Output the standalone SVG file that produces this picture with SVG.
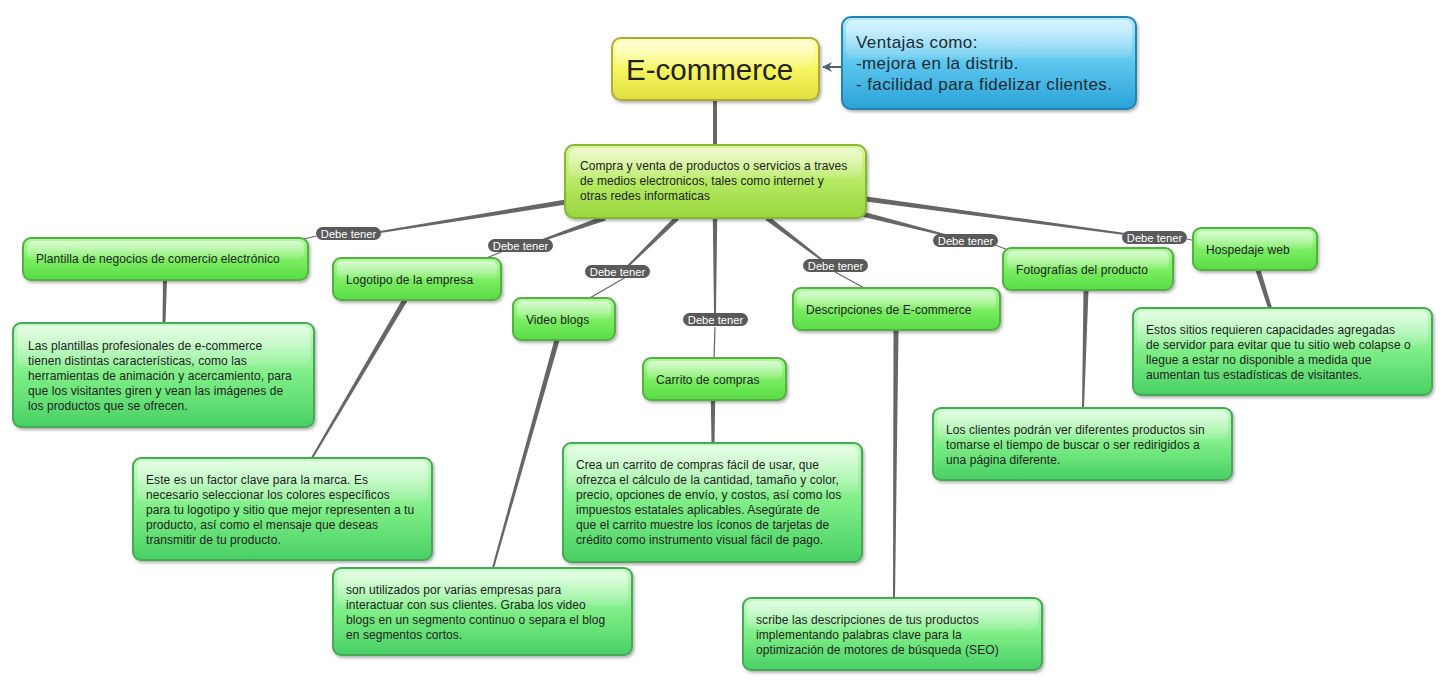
<svg xmlns="http://www.w3.org/2000/svg" width="1442" height="681" viewBox="0 0 1442 681">
<defs>
<linearGradient id="gChild" x1="0" y1="0" x2="0" y2="1"><stop offset="0" stop-color="#b4f9a4"/><stop offset="0.5" stop-color="#7cee62"/><stop offset="1" stop-color="#58dc46"/></linearGradient>
<linearGradient id="gDesc" x1="0" y1="0" x2="0" y2="1"><stop offset="0" stop-color="#c8fcc8"/><stop offset="0.5" stop-color="#7eee86"/><stop offset="1" stop-color="#48d064"/></linearGradient>
<linearGradient id="gCentral" x1="0" y1="0" x2="0" y2="1"><stop offset="0" stop-color="#dcf69a"/><stop offset="0.5" stop-color="#b6ea62"/><stop offset="1" stop-color="#98d63e"/></linearGradient>
<linearGradient id="gRoot" x1="0" y1="0" x2="0" y2="1"><stop offset="0" stop-color="#ffffb0"/><stop offset="0.5" stop-color="#f6f660"/><stop offset="1" stop-color="#dede3c"/></linearGradient>
<linearGradient id="gBlue" x1="0" y1="0" x2="0" y2="1"><stop offset="0" stop-color="#b4eafd"/><stop offset="0.5" stop-color="#5cc6ee"/><stop offset="1" stop-color="#2aa2d6"/></linearGradient>
<linearGradient id="gGloss" x1="0" y1="0" x2="0" y2="1"><stop offset="0" stop-color="#ffffff" stop-opacity="0.55"/><stop offset="1" stop-color="#ffffff" stop-opacity="0.1"/></linearGradient>
<filter id="sh" x="-10%" y="-10%" width="120%" height="130%"><feDropShadow dx="1.5" dy="2" stdDeviation="1.5" flood-color="#000" flood-opacity="0.3"/></filter>
<marker id="arr" viewBox="0 0 10 10" refX="9" refY="5" markerWidth="10" markerHeight="10" markerUnits="userSpaceOnUse" orient="auto"><path d="M0,0 L10,5 L0,10 L3,5 Z" fill="#4a6278"/></marker>
</defs>
<style>
.t{font-family:"Liberation Sans",Arial,sans-serif;font-size:12px;fill:#222;letter-spacing:0.08px}
.child{fill:url(#gChild);stroke:#54b042;stroke-width:2;filter:url(#sh)}
.desc{fill:url(#gDesc);stroke:#4aa858;stroke-width:2;filter:url(#sh)}
.gloss{fill:url(#gGloss)}
.lbl rect{fill:#5a5a5a}
.lbl text{font-family:"Liberation Sans",Arial,sans-serif;font-size:11.2px;fill:#fff;text-anchor:middle}
.thin{stroke:#666;stroke-width:1.2;fill:none}
.tap{fill:#666}
</style>
<rect width="1442" height="681" fill="#fff"/>
<g id="connectors">
<line x1="715" y1="100" x2="715" y2="146" stroke="#666" stroke-width="4"/>
<line x1="842" y1="67" x2="823" y2="67" stroke="#4a6278" stroke-width="2" marker-end="url(#arr)"/>
<polygon class="tap" points="565.6,199.5 379.8,231 380.2,233 566.4,204.5"/>
<polygon class="tap" points="604.2,215.6 539.7,240.1 540.3,241.9 605.8,220.4"/>
<polygon class="tap" points="675.2,216.2 627.3,265.3 628.7,266.7 678.8,219.8"/>
<polygon class="tap" points="712.8,218 717.2,218 716,313 714,313"/>
<polygon class="tap" points="765.5,220 821.4,260.8 822.6,259.2 768.5,216"/>
<polygon class="tap" points="861.4,216.4 944.8,236 945.2,234 862.6,211.6"/>
<polygon class="tap" points="865.7,201.5 1124.9,235 1125.1,233 866.3,196.5"/>
<path class="thin" d="M316,236 L304,239"/>
<path class="thin" d="M506,250 L484,259"/>
<path class="thin" d="M626,277 L588,299"/>
<path class="thin" d="M715,327 L714,359"/>
<path class="thin" d="M835,272 L866,289"/>
<path class="thin" d="M990,243 L1008,250"/>
<path class="thin" d="M1187,239 L1196,241"/>
<polygon class="tap" points="163,280 167,280 165.5,323 162.5,323"/>
<polygon class="tap" points="402.8,298.7 311.1,457.5 312.9,458.5 407.2,301.3"/>
<polygon class="tap" points="554.6,339.3 492,567.7 494,568.3 559.4,340.7"/>
<polygon class="tap" points="710.8,400 715.2,400 714.5,443 711.5,443"/>
<polygon class="tap" points="893.5,330 898.5,330 895,598 893,598"/>
<polygon class="tap" points="1083.5,290 1088.5,290 1084,408 1082,408"/>
<polygon class="tap" points="1255.6,270.8 1268.1,308.6 1271.9,307.4 1260.4,269.2"/>
<g class="lbl"><rect x="316" y="227" width="65" height="13" rx="6.5"/><text x="348.5" y="237.5">Debe tener</text></g>
<g class="lbl"><rect x="488" y="239" width="65" height="13" rx="6.5"/><text x="520.5" y="249.5">Debe tener</text></g>
<g class="lbl"><rect x="585" y="265" width="65" height="13" rx="6.5"/><text x="617.5" y="275.5">Debe tener</text></g>
<g class="lbl"><rect x="683" y="313" width="65" height="13" rx="6.5"/><text x="715.5" y="323.5">Debe tener</text></g>
<g class="lbl"><rect x="803" y="259" width="65" height="13" rx="6.5"/><text x="835.5" y="269.5">Debe tener</text></g>
<g class="lbl"><rect x="933" y="234" width="65" height="13" rx="6.5"/><text x="965.5" y="244.5">Debe tener</text></g>
<g class="lbl"><rect x="1122" y="231" width="65" height="13" rx="6.5"/><text x="1154.5" y="241.5">Debe tener</text></g>
</g>
<g id="root">
<rect x="612" y="38" width="207" height="62" rx="9" fill="url(#gRoot)" stroke="#acac3a" stroke-width="2" filter="url(#sh)"/>
<rect x="616" y="41" width="199" height="26" rx="7" class="gloss"/>
<text x="626" y="80" style="font-family:'Liberation Sans',Arial,sans-serif;font-size:29.5px;fill:#222">E-commerce</text>
</g>
<g id="ventajas">
<rect x="842" y="17" width="294" height="92" rx="9" fill="url(#gBlue)" stroke="#2284b4" stroke-width="2" filter="url(#sh)"/>
<rect x="846" y="20" width="286" height="38" rx="7" class="gloss"/>
<text style="font-family:'Liberation Sans',Arial,sans-serif;font-size:17px;fill:#1e2a32;letter-spacing:0.4px"><tspan x="856" y="48">Ventajas como:</tspan><tspan x="856" y="69">-mejora en la distrib.</tspan><tspan x="856" y="90">- facilidad para fidelizar clientes.</tspan></text>
</g>
<g id="central">
<rect x="565" y="145" width="301" height="73" rx="9" fill="url(#gCentral)" stroke="#86b834" stroke-width="2" filter="url(#sh)"/>
<rect x="569" y="148" width="293" height="30" rx="7" class="gloss"/>
<text class="t"><tspan x="580" y="170">Compra y venta de productos o servicios a traves</tspan><tspan x="580" y="185">de medios electronicos, tales como internet y</tspan><tspan x="580" y="200">otras redes informaticas</tspan></text>
</g>
<g id="plantilla">
<rect x="23" y="238" width="285" height="42" rx="8" class="child"/>
<rect x="27" y="241" width="277" height="18" rx="6" class="gloss"/>
<text class="t" x="36" y="263">Plantilla de negocios de comercio electrónico</text>
</g>
<g id="logotipo">
<rect x="333" y="258" width="168" height="42" rx="8" class="child"/>
<rect x="337" y="261" width="160" height="18" rx="6" class="gloss"/>
<text class="t" x="346" y="284">Logotipo de la empresa</text>
</g>
<g id="video">
<rect x="513" y="298" width="102" height="42" rx="8" class="child"/>
<rect x="517" y="301" width="94" height="18" rx="6" class="gloss"/>
<text class="t" x="526" y="324">Video blogs</text>
</g>
<g id="carrito">
<rect x="643" y="358" width="143" height="42" rx="8" class="child"/>
<rect x="647" y="361" width="135" height="18" rx="6" class="gloss"/>
<text class="t" x="656" y="384">Carrito de compras</text>
</g>
<g id="descripciones">
<rect x="793" y="288" width="207" height="42" rx="8" class="child"/>
<rect x="797" y="291" width="199" height="18" rx="6" class="gloss"/>
<text class="t" x="806" y="314">Descripciones de E-commerce</text>
</g>
<g id="fotografias">
<rect x="1003" y="248" width="170" height="42" rx="8" class="child"/>
<rect x="1007" y="251" width="162" height="18" rx="6" class="gloss"/>
<text class="t" x="1016" y="274">Fotografías del producto</text>
</g>
<g id="hospedaje">
<rect x="1193" y="228" width="124" height="42" rx="8" class="child"/>
<rect x="1197" y="231" width="116" height="18" rx="6" class="gloss"/>
<text class="t" x="1206" y="254">Hospedaje web</text>
</g>
<g id="plantilla-desc">
<rect x="13" y="323" width="301" height="104" rx="8" class="desc"/>
<rect x="17" y="326" width="293" height="40" rx="6" class="gloss"/>
<text class="t"><tspan x="28" y="350">Las plantillas profesionales de e-commerce</tspan><tspan x="28" y="365">tienen distintas características, como las</tspan><tspan x="28" y="380">herramientas de animación y acercamiento, para</tspan><tspan x="28" y="395">que los visitantes giren y vean las imágenes de</tspan><tspan x="28" y="410">los productos que se ofrecen.</tspan></text>
</g>
<g id="logotipo-desc">
<rect x="133" y="458" width="299" height="102" rx="8" class="desc"/>
<rect x="137" y="461" width="291" height="40" rx="6" class="gloss"/>
<text class="t"><tspan x="146" y="484">Este es un factor clave para la marca. Es</tspan><tspan x="146" y="499">necesario seleccionar los colores específicos</tspan><tspan x="146" y="514">para tu logotipo y sitio que mejor representen a tu</tspan><tspan x="146" y="529">producto, así como el mensaje que deseas</tspan><tspan x="146" y="544">transmitir de tu producto.</tspan></text>
</g>
<g id="video-desc">
<rect x="333" y="568" width="299" height="87" rx="8" class="desc"/>
<rect x="337" y="571" width="291" height="34" rx="6" class="gloss"/>
<text class="t"><tspan x="346" y="594">son utilizados por varias empresas para</tspan><tspan x="346" y="609">interactuar con sus clientes. Graba los video</tspan><tspan x="346" y="624">blogs en un segmento continuo o separa el blog</tspan><tspan x="346" y="639">en segmentos cortos.</tspan></text>
</g>
<g id="carrito-desc">
<rect x="563" y="443" width="299" height="119" rx="8" class="desc"/>
<rect x="567" y="446" width="291" height="46" rx="6" class="gloss"/>
<text class="t"><tspan x="576" y="469">Crea un carrito de compras fácil de usar, que</tspan><tspan x="576" y="484">ofrezca el cálculo de la cantidad, tamaño y color,</tspan><tspan x="576" y="499">precio, opciones de envío, y costos, así como los</tspan><tspan x="576" y="514">impuestos estatales aplicables. Asegúrate de</tspan><tspan x="576" y="529">que el carrito muestre los íconos de tarjetas de</tspan><tspan x="576" y="544">crédito como instrumento visual fácil de pago.</tspan></text>
</g>
<g id="descripciones-desc">
<rect x="743" y="598" width="299" height="72" rx="8" class="desc"/>
<rect x="747" y="601" width="291" height="28" rx="6" class="gloss"/>
<text class="t"><tspan x="756" y="624">scribe las descripciones de tus productos</tspan><tspan x="756" y="639">implementando palabras clave para la</tspan><tspan x="756" y="654">optimización de motores de búsqueda (SEO)</tspan></text>
</g>
<g id="fotografias-desc">
<rect x="933" y="408" width="299" height="72" rx="8" class="desc"/>
<rect x="937" y="411" width="291" height="28" rx="6" class="gloss"/>
<text class="t"><tspan x="946" y="434">Los clientes podrán ver diferentes productos sin</tspan><tspan x="946" y="449">tomarse el tiempo de buscar o ser redirigidos a</tspan><tspan x="946" y="464">una página diferente.</tspan></text>
</g>
<g id="hospedaje-desc">
<rect x="1133" y="308" width="299" height="87" rx="8" class="desc"/>
<rect x="1137" y="311" width="291" height="34" rx="6" class="gloss"/>
<text class="t"><tspan x="1146" y="334">Estos sitios requieren capacidades agregadas</tspan><tspan x="1146" y="349">de servidor para evitar que tu sitio web colapse o</tspan><tspan x="1146" y="364">llegue a estar no disponible a medida que</tspan><tspan x="1146" y="379">aumentan tus estadísticas de visitantes.</tspan></text>
</g>
</svg>
